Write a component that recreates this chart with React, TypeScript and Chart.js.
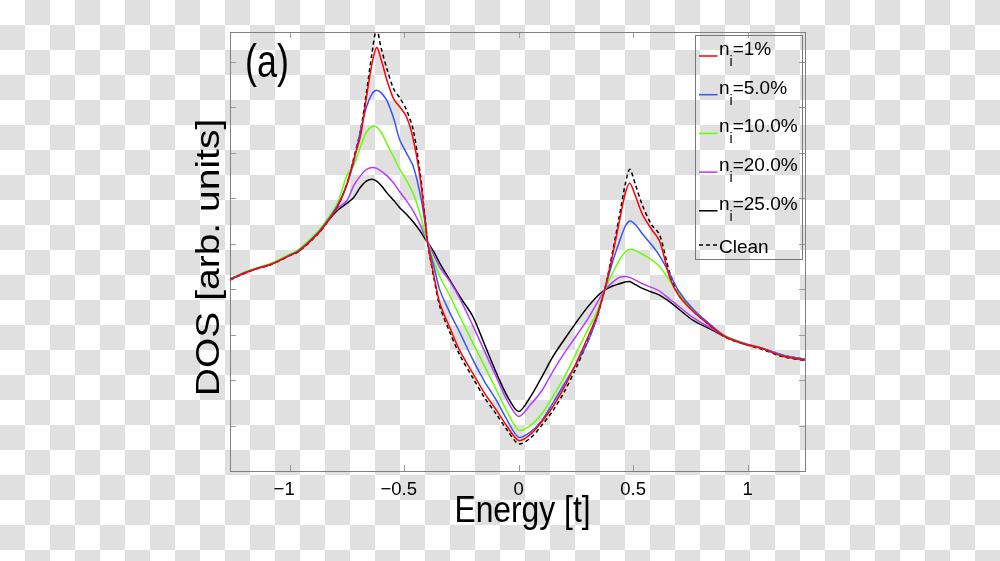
import React, { useEffect, useRef } from "react";
import { Chart, registerables } from "chart.js";

Chart.register(...registerables);

// ---- data ----
const ENERGY = [
  -1.26, -1.2, -1.137, -1.08, -1.0, -0.96, -0.875, -0.83,
  -0.79, -0.75, -0.72, -0.69, -0.665, -0.64, -0.62, -0.6,
  -0.575, -0.545, -0.52, -0.49, -0.46, -0.43, -0.41, -0.396,
  -0.37, -0.344, -0.3, -0.257, -0.2, -0.15, -0.1, -0.05,
  0, 0.05, 0.1, 0.15, 0.2, 0.25, 0.3, 0.34,
  0.375, 0.41, 0.44, 0.465, 0.485, 0.51, 0.54, 0.58,
  0.615, 0.66, 0.7, 0.76, 0.83, 0.9, 0.98, 1.06,
  1.15, 1.25,
];

const DOS_NI_1 = [
  4.21, 4.35, 4.46, 4.55, 4.74, 4.84, 5.23, 5.52,
  5.82, 6.3, 6.85, 7.38, 8.2, 8.97, 9.32, 9.05,
  8.6, 8.18, 8.02, 7.8, 7.3, 6.45, 5.6, 4.98,
  4.3, 3.69, 3.15, 2.65, 2.15, 1.72, 1.36, 0.98,
  0.67, 0.8, 1.08, 1.42, 1.85, 2.36, 2.92, 3.4,
  3.98, 4.75, 5.5, 6.1, 6.33, 6.05, 5.65, 5.32,
  5.06, 4.25, 3.85, 3.52, 3.22, 2.96, 2.8, 2.7,
  2.53, 2.44,
];

const DOS_NI_5 = [
  4.22, 4.36, 4.47, 4.55, 4.75, 4.85, 5.25, 5.54,
  5.85, 6.3, 6.8, 7.5, 8.0, 8.3, 8.38, 8.32,
  8.15, 7.75, 7.3, 7.0, 6.7, 6.1, 5.5, 5.0,
  4.5, 3.98, 3.48, 3.05, 2.45, 1.98, 1.58, 1.12,
  0.74, 0.85, 1.1, 1.5, 1.92, 2.35, 2.82, 3.35,
  3.98, 4.6, 5.05, 5.38, 5.5, 5.42, 5.22, 4.98,
  4.74, 4.33, 3.95, 3.57, 3.25, 2.97, 2.81, 2.7,
  2.55, 2.45,
];

const DOS_NI_10 = [
  4.21, 4.37, 4.48, 4.57, 4.77, 4.88, 5.28, 5.58,
  5.9, 6.5, 6.72, 7.14, 7.45, 7.58, 7.57, 7.45,
  7.2, 6.9, 6.65, 6.4, 6.1, 5.65, 5.25, 5.0,
  4.62, 4.28, 3.85, 3.4, 2.82, 2.32, 1.81, 1.3,
  0.9, 1.0, 1.25, 1.64, 2.07, 2.58, 3.09, 3.48,
  3.98, 4.35, 4.64, 4.82, 4.88, 4.85, 4.77, 4.65,
  4.5, 4.18, 3.9, 3.54, 3.24, 2.98, 2.82, 2.7,
  2.55, 2.45,
];

const DOS_NI_20 = [
  4.2, 4.35, 4.46, 4.56, 4.76, 4.85, 5.24, 5.53,
  5.78, 5.95, 6.28, 6.5, 6.63, 6.68, 6.66, 6.6,
  6.5, 6.33, 6.15, 5.95, 5.72, 5.42, 5.18, 5.02,
  4.75, 4.48, 4.17, 3.8, 3.2, 2.65, 2.1, 1.55,
  1.2, 1.45, 1.76, 2.2, 2.6, 2.96, 3.33, 3.68,
  3.98, 4.15, 4.26, 4.28, 4.26, 4.2, 4.12, 4.04,
  3.96, 3.78, 3.62, 3.38, 3.17, 2.97, 2.82, 2.71,
  2.56, 2.45,
];

const DOS_NI_25 = [
  4.22, 4.36, 4.47, 4.55, 4.75, 4.84, 5.23, 5.52,
  5.74, 5.89, 6.02, 6.25, 6.38, 6.42, 6.38, 6.28,
  6.12, 5.95, 5.8, 5.65, 5.48, 5.28, 5.12, 5.02,
  4.82, 4.57, 4.2, 3.84, 3.4, 2.8, 2.19, 1.65,
  1.31, 1.62, 2.06, 2.52, 2.9, 3.26, 3.6, 3.83,
  3.98, 4.07, 4.12, 4.16, 4.17, 4.1, 4.02, 3.94,
  3.87, 3.72, 3.56, 3.32, 3.14, 2.96, 2.81, 2.7,
  2.55, 2.46,
];

const DOS_CLEAN = [
  4.2, 4.34, 4.46, 4.54, 4.74, 4.83, 5.22, 5.51,
  5.82, 6.32, 6.88, 7.5, 8.3, 9.2, 9.72, 9.3,
  8.85, 8.4, 8.22, 7.95, 7.5, 6.55, 5.65, 4.98,
  4.25, 3.62, 3.05, 2.55, 2.05, 1.62, 1.27, 0.9,
  0.6, 0.72, 1.0, 1.33, 1.75, 2.26, 2.84, 3.35,
  3.98, 4.82, 5.62, 6.3, 6.64, 6.3, 5.85, 5.42,
  5.2, 4.35, 3.88, 3.54, 3.22, 2.95, 2.8, 2.68,
  2.52, 2.43,
];

const NI_LABELS = ["1%", "5.0%", "10.0%", "20.0%", "25.0%"];
const CLEAN_LABEL = "Clean";
const X_TICKS = [-1, -0.5, 0, 0.5, 1];
const Y_TICKS = [1, 2, 3, 4, 5, 6, 7, 8, 9];
const X_TITLE = "Energy [t]";
const Y_TITLE = "DOS [arb. units]";
const PANEL_LABEL = "(a)";

const COLORS = ["#ff0000", "#3355ff", "#66ff00", "#b33cff", "#000000"];
const FONT = "'Liberation Sans', Arial, Helvetica, sans-serif";

const toPoints = (ys: number[]) => ENERGY.map((x, i) => ({ x, y: ys[i] }));

const decorPlugin = {
  id: "decor",
  beforeDatasetsDraw(chart: any) {
    const { ctx, chartArea: ca, scales } = chart;
    const xs = scales.x;
    const ys = scales.y;
    ctx.save();
    ctx.strokeStyle = "#9a9a9a";
    ctx.lineWidth = 1;
    ctx.beginPath();
    xs.ticks.forEach((t: any) => {
      const px = Math.round(xs.getPixelForValue(t.value)) + 0.5;
      ctx.moveTo(px, ca.bottom);
      ctx.lineTo(px, ca.bottom - 6);
      ctx.moveTo(px, ca.top);
      ctx.lineTo(px, ca.top + 6);
    });
    ys.ticks.forEach((t: any) => {
      const py = Math.round(ys.getPixelForValue(t.value)) + 0.5;
      ctx.moveTo(ca.left, py);
      ctx.lineTo(ca.left + 6, py);
      ctx.moveTo(ca.right, py);
      ctx.lineTo(ca.right - 6, py);
    });
    ctx.stroke();
    ctx.strokeStyle = "#808080";
    ctx.strokeRect(
      Math.round(ca.left) + 0.5,
      Math.round(ca.top) + 0.5,
      Math.round(ca.right - ca.left),
      Math.round(ca.bottom - ca.top)
    );
    ctx.restore();
  },
  afterDraw(chart: any) {
    const { ctx, chartArea: ca, scales } = chart;
    const xs = scales.x;
    ctx.save();
    ctx.fillStyle = "#000";

    ctx.font = `18.5px ${FONT}`;
    ctx.textBaseline = "alphabetic";
    xs.ticks.forEach((t: any) => {
      const px = xs.getPixelForValue(t.value);
      const v = t.value;
      const num = String(Math.abs(v));
      const w = ctx.measureText(num).width;
      ctx.textAlign = "left";
      ctx.fillText(num, px - w / 2, ca.bottom + 24);
      if (v < 0) {
        ctx.textAlign = "right";
        ctx.fillText("\u2212", px - w / 2, ca.bottom + 24);
      }
    });

    ctx.save();
    ctx.translate((ca.left + ca.right) / 2 + 5, ca.bottom + 51);
    ctx.scale(0.86, 1);
    ctx.font = `37px ${FONT}`;
    ctx.textAlign = "center";
    ctx.fillText(X_TITLE, 0, 0);
    ctx.restore();

    ctx.save();
    ctx.translate(ca.left - 11, (ca.top + ca.bottom) / 2 + 6);
    ctx.scale(0.86, 1);
    ctx.rotate(-Math.PI / 2);
    ctx.font = `39px ${FONT}`;
    ctx.textAlign = "center";
    ctx.fillText(Y_TITLE, 0, 0);
    ctx.restore();

    ctx.save();
    ctx.translate(ca.left + 15, ca.top + 45);
    ctx.scale(0.78, 1);
    ctx.font = `46px ${FONT}`;
    ctx.textAlign = "left";
    ctx.fillText(PANEL_LABEL, 0, 0);
    ctx.restore();

    const bx = 695.5;
    const by = 35.5;
    const bw = 107;
    const bh = 224;
    ctx.strokeStyle = "#777";
    ctx.lineWidth = 1;
    ctx.strokeRect(bx, by, bw, bh);
    const dsets = chart.data.datasets;
    dsets.forEach((ds: any, i: number) => {
      const isClean = i === dsets.length - 1;
      const ly = isClean ? by + 209.5 : by + 20.5 + i * 38.7;
      ctx.save();
      ctx.strokeStyle = ds.borderColor;
      ctx.lineWidth = 1.5;
      ctx.setLineDash(ds.borderDash || []);
      ctx.beginPath();
      ctx.moveTo(bx + 3.5, ly);
      ctx.lineTo(bx + 22, ly);
      ctx.stroke();
      ctx.restore();
      ctx.textAlign = "left";
      let tx = bx + 23.5;
      if (isClean) {
        ctx.font = `19px ${FONT}`;
        ctx.fillText(CLEAN_LABEL, tx, ly + 8);
      } else {
        const base = ly - 1;
        ctx.font = `19px ${FONT}`;
        ctx.fillText("n", tx, base);
        tx += ctx.measureText("n").width;
        ctx.font = `14px ${FONT}`;
        ctx.fillText("i", tx, base + 11);
        tx += ctx.measureText("i").width;
        ctx.font = `19px ${FONT}`;
        ctx.fillText("=" + NI_LABELS[i], tx, base);
      }
    });
    ctx.restore();
  },
};

export default function App() {
  const canvasRef = useRef<HTMLCanvasElement | null>(null);

  useEffect(() => {
    if (!canvasRef.current) return;
    const series = [DOS_NI_1, DOS_NI_5, DOS_NI_10, DOS_NI_20, DOS_NI_25];
    const datasets: any[] = series.map((ys, i) => ({
      label: "n_i=" + NI_LABELS[i],
      data: toPoints(ys),
      borderColor: COLORS[i],
      borderWidth: 1.5,
      pointRadius: 0,
      fill: false,
      tension: 0.3,
    }));
    datasets.push({
      label: CLEAN_LABEL,
      data: toPoints(DOS_CLEAN),
      borderColor: "#000000",
      borderWidth: 1.5,
      borderDash: [4, 3],
      pointRadius: 0,
      fill: false,
      tension: 0.3,
    });

    const chart = new Chart(canvasRef.current, {
      type: "line",
      data: { datasets },
      options: {
        animation: false,
        responsive: false,
        devicePixelRatio: 1,
        layout: { padding: { left: 230, right: 195, top: 32, bottom: 90 } },
        plugins: { legend: { display: false }, tooltip: { enabled: false } },
        scales: {
          x: {
            type: "linear",
            display: false,
            min: -1.26,
            max: 1.25,
            afterBuildTicks: (s: any) => {
              s.ticks = X_TICKS.map((v) => ({ value: v }));
            },
          },
          y: {
            type: "linear",
            display: false,
            min: 0,
            max: 9.66,
            afterBuildTicks: (s: any) => {
              s.ticks = Y_TICKS.map((v) => ({ value: v }));
            },
          },
        },
      } as any,
      plugins: [decorPlugin],
    });
    return () => chart.destroy();
  }, []);

  return (
    <div
      style={{
        position: "fixed",
        left: 0,
        top: 0,
        width: 1000,
        height: 561,
        background:
          "repeating-conic-gradient(#e0e0e0 0 25%, #ffffff 0 50%) 0 0 / 50px 50px",
      }}
    >
      <canvas ref={canvasRef} width={1000} height={561} style={{ display: "block" }} />
    </div>
  );
}
